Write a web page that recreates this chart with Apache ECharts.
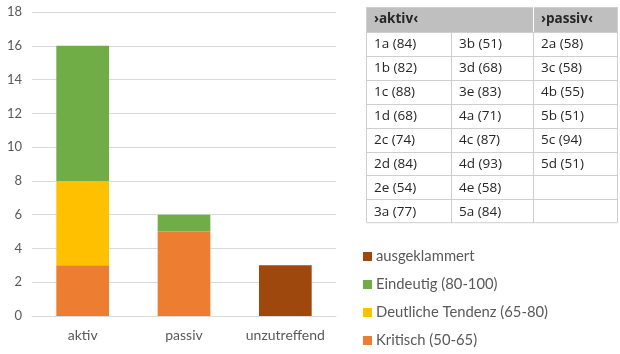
<!DOCTYPE html>
<html><head><meta charset="utf-8">
<script src="https://cdn.jsdelivr.net/npm/echarts@6/dist/echarts.min.js"></script>
<style>html,body{margin:0;padding:0;background:#fff}#c{width:620px;height:354px}</style>
</head><body><div id="c"></div>
<script>
const categories = ['aktiv', 'passiv', 'unzutreffend'];
const kritisch = [3, 5, 0];
const tendenz = [5, 0, 0];
const eindeutig = [8, 1, 0];
const ausgeklammert = [0, 0, 3];
const yTicks = [0, 2, 4, 6, 8, 10, 12, 14, 16, 18];

const tableHeader = ['›aktiv‹', '', '›passiv‹'];
const tableCol1 = ['1a (84)', '1b (82)', '1c (88)', '1d (68)', '2c (74)', '2d (84)', '2e (54)', '3a (77)'];
const tableCol2 = ['3b (51)', '3d (68)', '3e (83)', '4a (71)', '4c (87)', '4d (93)', '4e (58)', '5a (84)'];
const tableCol3 = ['2a (58)', '3c (58)', '4b (55)', '5b (51)', '5c (94)', '5d (51)', '', ''];

const chart = echarts.init(document.getElementById('c'));
const font = 'Lato, "Open Sans", sans-serif';
const tfont = '"Open Sans", "Noto Sans", sans-serif';

const tx = [366, 451, 533, 618];
const ty0 = 7, th0 = 25, rowH = 23.9;
const g = [];
g.push({type:'rect', shape:{x:tx[0], y:ty0, width:tx[3]-tx[0], height:th0}, style:{fill:'#bfbfbf'}, silent:true});
const nRows = tableCol1.length;
const bottom = ty0 + th0 + nRows*rowH;
g.push({type:'rect', shape:{x:tx[0]+0.5, y:ty0+0.5, width:tx[3]-tx[0]-1, height:bottom-ty0-1}, style:{fill:'none', stroke:'#cfcfcf', lineWidth:1}, silent:true});
for (let r = 0; r < nRows; r++) {
  const y = Math.round(ty0 + th0 + r*rowH) + 0.5;
  g.push({type:'line', shape:{x1:tx[0], y1:y, x2:tx[3], y2:y}, style:{stroke:'#cfcfcf', lineWidth:1}, silent:true});
}
g.push({type:'line', shape:{x1:tx[1]+0.5, y1:ty0+th0, x2:tx[1]+0.5, y2:bottom}, style:{stroke:'#cfcfcf', lineWidth:1}, silent:true});
g.push({type:'line', shape:{x1:tx[2]+0.5, y1:ty0, x2:tx[2]+0.5, y2:ty0+th0}, style:{stroke:'#ffffff', lineWidth:1}, silent:true});
g.push({type:'line', shape:{x1:tx[2]+0.5, y1:ty0+th0, x2:tx[2]+0.5, y2:bottom}, style:{stroke:'#cfcfcf', lineWidth:1}, silent:true});
tableHeader.forEach((t, i) => {
  if (!t) return;
  g.push({type:'text', x:tx[i]+8, y:ty0+th0/2, style:{text:t, font:'bold 13.5px '+tfont, fill:'#262626', verticalAlign:'middle'}, silent:true});
});
[tableCol1, tableCol2, tableCol3].forEach((col, c) => {
  col.forEach((t, r) => {
    if (!t) return;
    g.push({type:'text', x:tx[c]+8, y:ty0+th0+r*rowH+rowH/2+0.5, style:{text:t, font:'13.5px '+tfont, fill:'#262626', verticalAlign:'middle'}, silent:true});
  });
});

function ser(name, data, color) {
  return {name, type:'bar', stack:'s', data, barWidth:'52%', itemStyle:{color}, emphasis:{disabled:true}};
}

chart.setOption({
  animation:false,
  textStyle:{fontFamily:font},
  grid:{left:32, right:284, top:12, bottom:38},
  legend:{
    orient:'vertical', left:363, top:249, width:250, height:105, padding:0,
    itemWidth:9, itemHeight:9, itemGap:13,
    icon:'rect',
    data:['ausgeklammert', 'Eindeutig (80-100)', 'Deutliche Tendenz (65-80)', 'Kritisch (50-65)'],
    textStyle:{fontSize:14.8, color:'#595959', fontFamily:font, padding:[0,0,0,-1]},
    selectedMode:false
  },
  xAxis:{
    type:'category', data:categories,
    axisLine:{lineStyle:{color:'#d9d9d9'}}, axisTick:{show:false},
    axisLabel:{color:'#595959', fontSize:14, margin:12, interval:0}
  },
  yAxis:{
    type:'value', min:yTicks[0], max:yTicks[yTicks.length-1], interval:2,
    axisLine:{show:false}, axisTick:{show:false},
    splitLine:{lineStyle:{color:'#d9d9d9'}},
    axisLabel:{color:'#595959', fontSize:13, margin:10}
  },
  series:[
    ser('Kritisch (50-65)', kritisch, '#ED7D31'),
    ser('Deutliche Tendenz (65-80)', tendenz, '#FFC000'),
    ser('Eindeutig (80-100)', eindeutig, '#70AD47'),
    ser('ausgeklammert', ausgeklammert, '#9E480E')
  ],
  graphic:g
});
</script></body></html>
